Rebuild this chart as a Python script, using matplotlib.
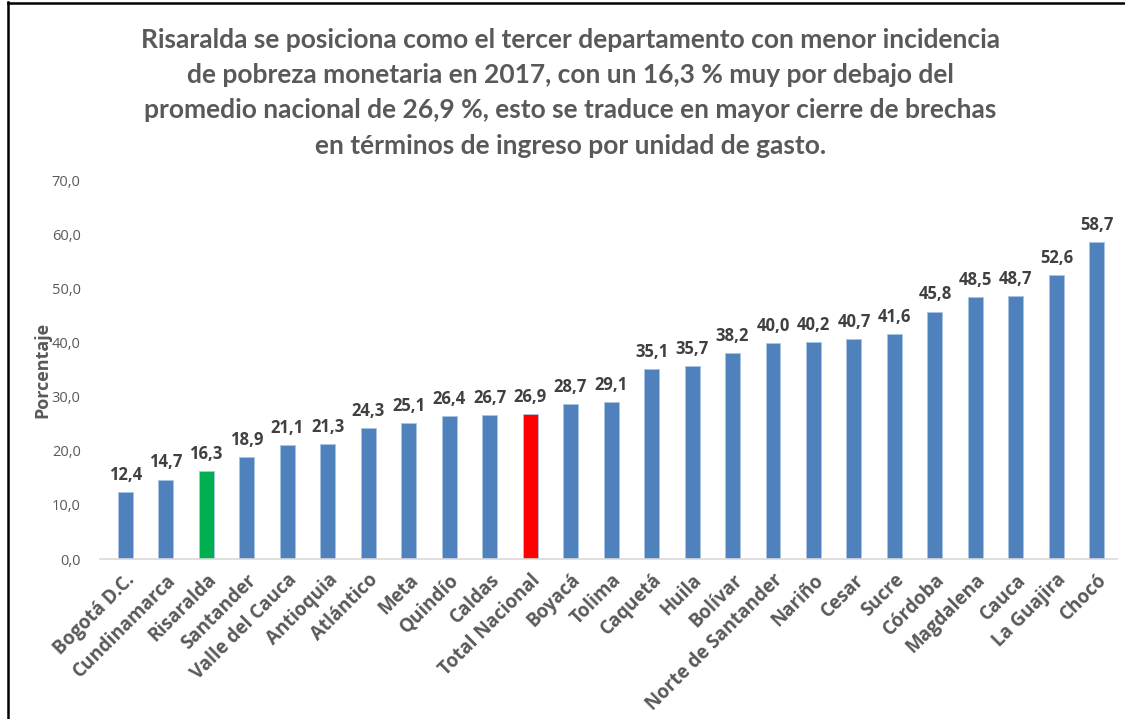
import numpy as np
import matplotlib.pyplot as plt
from matplotlib.lines import Line2D

departamentos = ["Bogotá D.C.", "Cundinamarca", "Risaralda", "Santander", "Valle del Cauca",
                 "Antioquia", "Atlántico", "Meta", "Quindío", "Caldas", "Total Nacional",
                 "Boyacá", "Tolima", "Caquetá", "Huila", "Bolívar", "Norte de Santander",
                 "Nariño", "Cesar", "Sucre", "Córdoba", "Magdalena", "Cauca", "La Guajira", "Chocó"]
pobreza = [12.4, 14.7, 16.3, 18.9, 21.1, 21.3, 24.3, 25.1, 26.4, 26.7, 26.9, 28.7, 29.1,
           35.1, 35.7, 38.2, 40.0, 40.2, 40.7, 41.6, 45.8, 48.5, 48.7, 52.6, 58.7]
yticks = [0, 10, 20, 30, 40, 50, 60, 70]

titulo = ("Risaralda se posiciona como el tercer departamento con menor incidencia\n"
          "de pobreza monetaria en 2017, con un 16,3 % muy por debajo del\n"
          "promedio nacional de 26,9 %, esto se traduce en mayor cierre de brechas\n"
          "en términos de ingreso por unidad de gasto.")

plt.rcParams["font.family"] = ["Open Sans", "DejaVu Sans"]

colores = []
for d in departamentos:
    if d == "Risaralda":
        colores.append("#00B050")
    elif d == "Total Nacional":
        colores.append("#FF0000")
    else:
        colores.append("#4F81BD")

fig = plt.figure(figsize=(11.25, 7.19), dpi=100)
ax = fig.add_axes([0.089, 0.2225, 0.904, 0.526])

x = np.arange(len(departamentos))
ax.bar(x, pobreza, width=0.37, color=colores, edgecolor="#A9C4E4", linewidth=0.6)

for xi, v in zip(x, pobreza):
    ax.text(xi, v + 1.5, f"{v:.1f}".replace(".", ","), ha="center", va="bottom",
            fontsize=12, fontweight="bold", color="#404040")

ax.set_xlim(-0.62, 24.5)
ax.set_ylim(0, 70)
ax.set_yticks(yticks)
ax.set_yticklabels([f"{t:.1f}".replace(".", ",") for t in yticks], fontsize=10.5, color="#595959")
ax.set_xticks(x)
ax.set_xticklabels(departamentos, rotation=45, ha="right", rotation_mode="anchor",
                   fontsize=13.5, fontweight="bold", color="#595959")
ax.tick_params(axis="both", length=0)
ax.tick_params(axis="y", pad=14)
ax.tick_params(axis="x", pad=8)

for s in ["top", "right", "left"]:
    ax.spines[s].set_visible(False)
ax.spines["bottom"].set_color("#D9D9D9")
ax.spines["bottom"].set_linewidth(1.2)

ax.set_ylabel("Porcentaje", fontsize=13, fontweight="bold", color="#595959", labelpad=0)

fig.text(0.507, 0.961, titulo, ha="center", va="top", fontsize=19, fontweight="bold",
         color="#595959", linespacing=1.56, family=["Lato", "DejaVu Sans"])

# marco recortado del original
fig.add_artist(Line2D([0.007, 0.007], [0, 0.997], color="black", linewidth=1.8))
fig.add_artist(Line2D([0.007, 1.0], [0.996, 0.996], color="black", linewidth=1.8))

plt.savefig("out.png")
